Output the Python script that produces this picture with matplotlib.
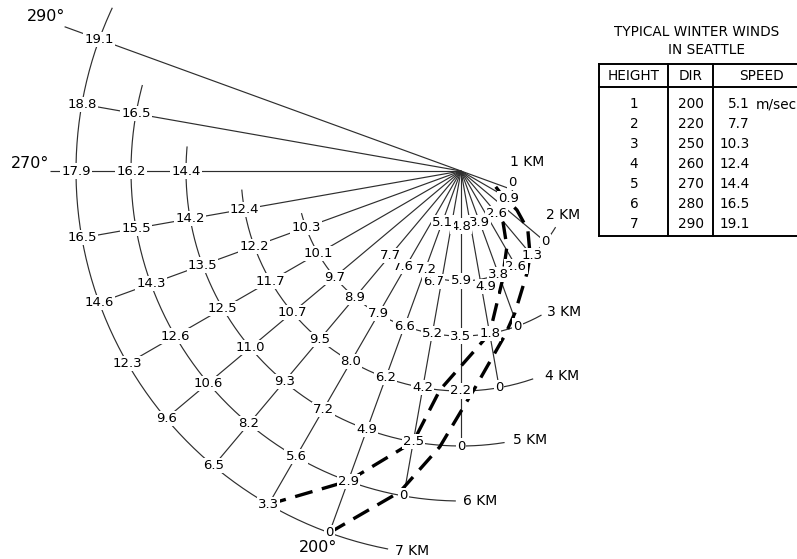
import numpy as np
import matplotlib
matplotlib.use("Agg")
import matplotlib.pyplot as plt

plt.rcParams['font.family'] = ['DejaVu Sans']
plt.rcParams['lines.scale_dashes'] = False

# ---------------- data ----------------
heights = [1, 2, 3, 4, 5, 6, 7]                      # km
wind_dir = [200, 220, 250, 260, 270, 280, 290]       # degrees
wind_speed = ["5.1", "7.7", "10.3", "12.4", "14.4", "16.5", "19.1"]  # m/sec

# component values written on each height arc, from (dir-90) to dir in 10 deg steps
comp_1km = [0, 0.9, None, 2.6, None, 3.9, None, 4.8, None, 5.1]
comp_2km = [0, 1.3, 2.6, 3.8, 4.9, 5.9, 6.7, 7.2, 7.6, 7.7]
comp_3km = [0, 1.8, 3.5, 5.2, 6.6, 7.9, 8.9, 9.7, 10.1, 10.3]
comp_4km = [0, 2.2, 4.2, 6.2, 8.0, 9.5, 10.7, 11.7, 12.2, 12.4]
comp_5km = [0, 2.5, 4.9, 7.2, 9.3, 11.0, 12.5, 13.5, 14.2, 14.4]
comp_6km = [0, 2.9, 5.6, 8.2, 10.6, 12.6, 14.3, 15.5, 16.2, 16.5]
comp_7km = [0, 3.3, 6.5, 9.6, 12.3, 14.6, 16.5, 17.9, 18.8, 19.1]
components = [comp_1km, comp_2km, comp_3km, comp_4km, comp_5km, comp_6km, comp_7km]

# dashed curves (height km, direction deg)
curveA_h = [7.0, 6.0, 5.0, 4.0, 3.0, 2.15, 1.61, 1.2]
curveA_dir = [210, 200, 190, 185.5, 170, 159.7, 148.8, 140.5]
curveB_h = [7.0, 5.94, 5.03, 3.95, 3.09, 2.76, 2.21, 1.98, 1.62, 1.24, 0.86, 0.68]
curveB_dir = [200, 190.8, 184.4, 176.3, 165, 159.2, 147.1, 140.6, 131.4, 124.9, 120.3, 113.8]

# ---------------- layout (pixels) ----------------
W, H = 797, 559
CX, CY = 461, 171          # hub of the fan
SCALE = 55.0               # px per km
RMAX = 8.6

fig = plt.figure(figsize=(W / 100, H / 100), dpi=100)
rad_px = RMAX * SCALE
ax = fig.add_axes([(CX - rad_px) / W, (H - CY - rad_px) / H, 2 * rad_px / W, 2 * rad_px / H],
                  projection='polar')
ax.set_theta_zero_location('N')
ax.set_theta_direction(-1)
ax.set_rlim(0, RMAX)
ax.axis('off')

LINE_C = '#2e2e2e'
LW = 0.85

def T(deg):
    return np.radians(deg)

# rays from the hub
ray_ext = {290: 7.67, 270: 7.47}
for ang in range(110, 300, 10):
    rr = [h for h, d in zip(heights, wind_dir) if d - 90 <= ang <= d]
    if not rr:
        continue
    rend = ray_ext.get(ang, max(rr))
    ax.plot([T(ang), T(ang)], [0, rend], color=LINE_C, lw=LW, zorder=1, solid_capstyle='butt')

# height arcs
for h, d in zip(heights, wind_dir):
    th = np.linspace(d - 99, d + 5, 200)
    ax.plot(T(th), np.full_like(th, h), color=LINE_C, lw=LW, zorder=1)

# dashed curves
for hh, dd in ((curveA_h, curveA_dir), (curveB_h, curveB_dir)):
    ax.plot(T(np.array(dd)), hh, color='black', lw=2.4, dashes=(13, 7),
            zorder=2, solid_capstyle='butt', dash_capstyle='butt')

# node labels
nudge = {(1, 110): (0, 7), (2, 170): (6, -7), (2, 190): (-8, -2), (2, 200): (3, 5),
         (2, 210): (-3, 0)}
bbox = dict(boxstyle='square,pad=0.08', fc='white', ec='none')
for h, d, vals in zip(heights, wind_dir, components):
    for i, v in enumerate(vals):
        if v is None:
            continue
        ang = d - 90 + 10 * i
        txt = '0' if v == 0 else f'{v:.1f}'
        off = nudge.get((h, ang), (0, 0))
        ax.annotate(txt, xy=(T(ang), h), xytext=off, textcoords='offset pixels',
                    ha='center', va='center', fontsize=9.5, color='black',
                    bbox=bbox, zorder=3, annotation_clip=False)

# km labels
km_off = {1: (14, 28), 2: (18, 27), 3: (47, 14), 4: (63, 12), 5: (69, 6), 6: (76, -5), 7: (83, -18)}
for h, d in zip(heights, wind_dir):
    ax.annotate(f'{h} KM', xy=(T(d - 90), h), xytext=km_off[h], textcoords='offset pixels',
                ha='center', va='center', fontsize=10, color='black', zorder=3,
                annotation_clip=False)

# direction labels
for lab, r, a in (('290°', 8.05, 290.4), ('270°', 7.84, 271), ('200°', 7.33, 200.8)):
    ax.text(T(a), r, lab, ha='center', va='center', fontsize=11.5, color='black',
            bbox=bbox, zorder=3)

# ---------------- table ----------------
tab = fig.add_axes([0, 0, 1, 1])
tab.set_xlim(0, W)
tab.set_ylim(H, 0)
tab.axis('off')

tab.text(697, 32, 'TYPICAL WINTER WINDS', ha='center', va='center', fontsize=9.8)
tab.text(707, 50, 'IN SEATTLE', ha='center', va='center', fontsize=9.8)

tl, tr, tt, tb, th_ = 599, 805, 64, 236, 87
lw_t = 1.4
tab.plot([tl, tr], [tt, tt], color='black', lw=lw_t)
tab.plot([tl, tr], [tb, tb], color='black', lw=lw_t)
tab.plot([tl, tl], [tt, tb], color='black', lw=lw_t)
tab.plot([tl, tr], [th_, th_], color='black', lw=lw_t)
for xc in (668, 713):
    tab.plot([xc, xc], [tt, tb], color='black', lw=lw_t)

tab.text(634, 76, 'HEIGHT', ha='center', va='center', fontsize=9.8)
tab.text(691, 76, 'DIR', ha='center', va='center', fontsize=9.8)
tab.text(761, 76, 'SPEED', ha='center', va='center', fontsize=9.8)

for i, (h, d, s) in enumerate(zip(heights, wind_dir, wind_speed)):
    y = 104 + 20 * i
    tab.text(634, y, str(h), ha='center', va='center', fontsize=9.8)
    tab.text(691, y, str(d), ha='center', va='center', fontsize=9.8)
    tab.text(750, y, s, ha='right', va='center', fontsize=9.8)
    if i == 0:
        tab.text(756, y, 'm/sec', ha='left', va='center', fontsize=9.8)

fig.savefig('out.png', dpi=100, facecolor='white')
